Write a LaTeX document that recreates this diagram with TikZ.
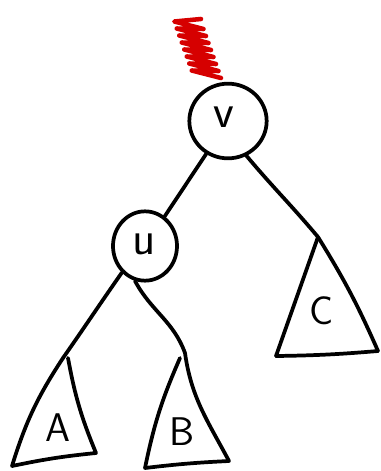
\documentclass[tikz,border=0pt]{standalone}
\usepackage{xcolor}
\usepackage{tikz}
\usetikzlibrary{shapes.geometric,positioning}
\definecolor{scribblered}{RGB}{214,0,0}

\begin{document}
\begin{tikzpicture}[
    x=0.75pt, y=-0.75pt,
    line width=2.8pt, line cap=round, line join=round,
    vertex/.style={
        ellipse, draw, line width=2.8pt, inner sep=0pt
    },
    bigvertex/.style={vertex, minimum width=58pt, minimum height=56pt},
    smallvertex/.style={vertex, minimum width=48pt, minimum height=52pt},
    edge/.style={draw, line width=2.8pt},
    subtree/.style={draw, line width=2.8pt},
    lowlabel/.style={font=\sffamily\fontsize{36}{36}\selectfont, inner sep=0pt},
    caplabel/.style={font=\sffamily\fontsize{30}{30}\selectfont, inner sep=0pt},
    scribble/.style={draw=scribblered, line width=3.4pt}
]
\useasboundingbox (0,0) rectangle (381,471);

% nodes
\node[bigvertex]   (v) at (228,121) {};
\node[smallvertex] (u) at (145,246) {};
\node[lowlabel] (vlabel) at (224,117) {v};
\node[lowlabel] (ulabel) at (144,244) {u};

% subtree corners
\coordinate (Atl) at (63,358);
\coordinate (Atr) at (68,358);
\coordinate (Abl) at (12,466);
\coordinate (Abr) at (96,453);

\coordinate (Btl) at (180,358);
\coordinate (Btr) at (185,353);
\coordinate (Bbl) at (145,468);
\coordinate (Bbr) at (229,461);

\coordinate (Ctop) at (318,237);
\coordinate (Cbl)  at (276,356);
\coordinate (Cbr)  at (378,351);

\node[caplabel] (A) at (58,428) {A};
\node[caplabel] (B) at (182,432) {B};
\node[caplabel] (C) at (322,311) {C};

% subtrees
\draw[subtree] (Atl) to[bend right=8] (Abl) to[bend left=3] (Abr) to[bend left=6] (Atr);
\draw[subtree] (Btl) to[bend right=6] (Bbl) to[bend left=2] (Bbr) to[out=118, in=-82] (Btr);
\draw[subtree] (Ctop) -- (Cbl);
\draw[subtree] (Ctop) to[bend left=4] (Cbr);
\draw[subtree] (Cbl) to[bend right=2] (Cbr);

% edges
\draw[edge] (v) -- (u);
\draw[edge] (v.-62) to[out=-50, in=130] (Ctop);
\draw[edge] (u.-131) to[out=-125, in=55] (Atl);
\draw[edge] (u.-106) to[out=-62, in=110] (Btr);

% red scribble above v
\draw[scribble] (201,19)
    \foreach \i in {1,...,16} {
        -- ({187 + 20*\i/16 + 14*(-1)^\i}, {20 + 56*\i/16 + 2*(-1)^\i})
    };
\end{tikzpicture}
\end{document}
